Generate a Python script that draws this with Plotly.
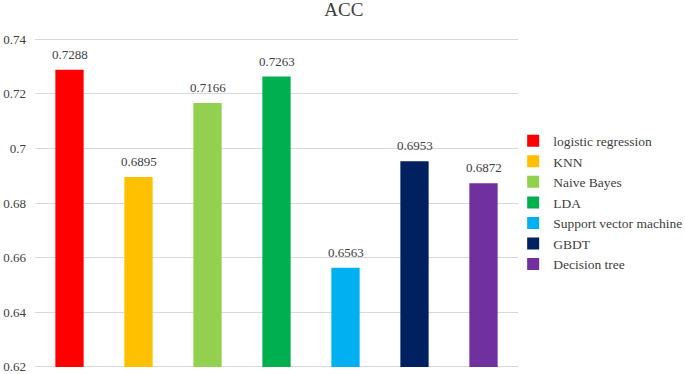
import plotly.graph_objects as go

models = ["logistic regression", "KNN", "Naive Bayes", "LDA",
          "Support vector machine", "GBDT", "Decision tree"]
acc = [0.7288, 0.6895, 0.7166, 0.7263, 0.6563, 0.6953, 0.6872]
colors = ["#FF0000", "#FFC000", "#92D050", "#00B050", "#00B0F0", "#002060", "#7030A0"]
y_ticks = [0.62, 0.64, 0.66, 0.68, 0.70, 0.72, 0.74]
y_tick_labels = ["0.62", "0.64", "0.66", "0.68", "0.7", "0.72", "0.74"]

fig = go.Figure()
for name, v, c in zip(models, acc, colors):
    fig.add_trace(go.Bar(
        x=[name], y=[v - 0.62], base=0.62, name=name,
        marker=dict(color=c, line=dict(width=0)),
    ))
    fig.add_annotation(
        x=name, y=v, text=f"{v:.4f}", showarrow=False,
        xanchor="center", yanchor="bottom", yshift=6,
        font=dict(family="Liberation Serif", size=13, color="#404040"),
    )

fig.update_layout(
    width=685, height=374,
    margin=dict(l=35, r=167, t=38, b=6, autoexpand=False),
    paper_bgcolor="white", plot_bgcolor="white",
    barmode="overlay", bargap=0.59,
    title=dict(text="ACC", x=0.502, xanchor="center", y=0.975, yanchor="middle",
               font=dict(family="Liberation Serif", size=19, color="#404040")),
    showlegend=True,
    legend=dict(x=0.99, y=0.735, xanchor="left", yanchor="top",
                font=dict(family="Liberation Serif", size=13.5, color="#404040"),
                tracegroupgap=0, itemwidth=30, bgcolor="rgba(0,0,0,0)"),
    font=dict(family="Liberation Serif", color="#404040"),
)
fig.update_xaxes(showticklabels=False, showgrid=False, zeroline=False,
                 showline=False, categoryorder="array", categoryarray=models,
                 automargin=False)
fig.update_yaxes(range=[0.6196, 0.7404], tickvals=y_ticks, ticktext=y_tick_labels,
                 showgrid=True, gridcolor="#D9D9D9", gridwidth=1.3, zeroline=False,
                 showline=False, ticks="", ticklabelstandoff=8, automargin=False,
                 ticklabeloverflow="allow",
                 tickfont=dict(family="Liberation Serif", size=13, color="#404040"))

fig.write_html("out.html", config={"displayModeBar": False},
               post_script="document.body.style.margin='0';document.body.style.overflow='hidden';")
